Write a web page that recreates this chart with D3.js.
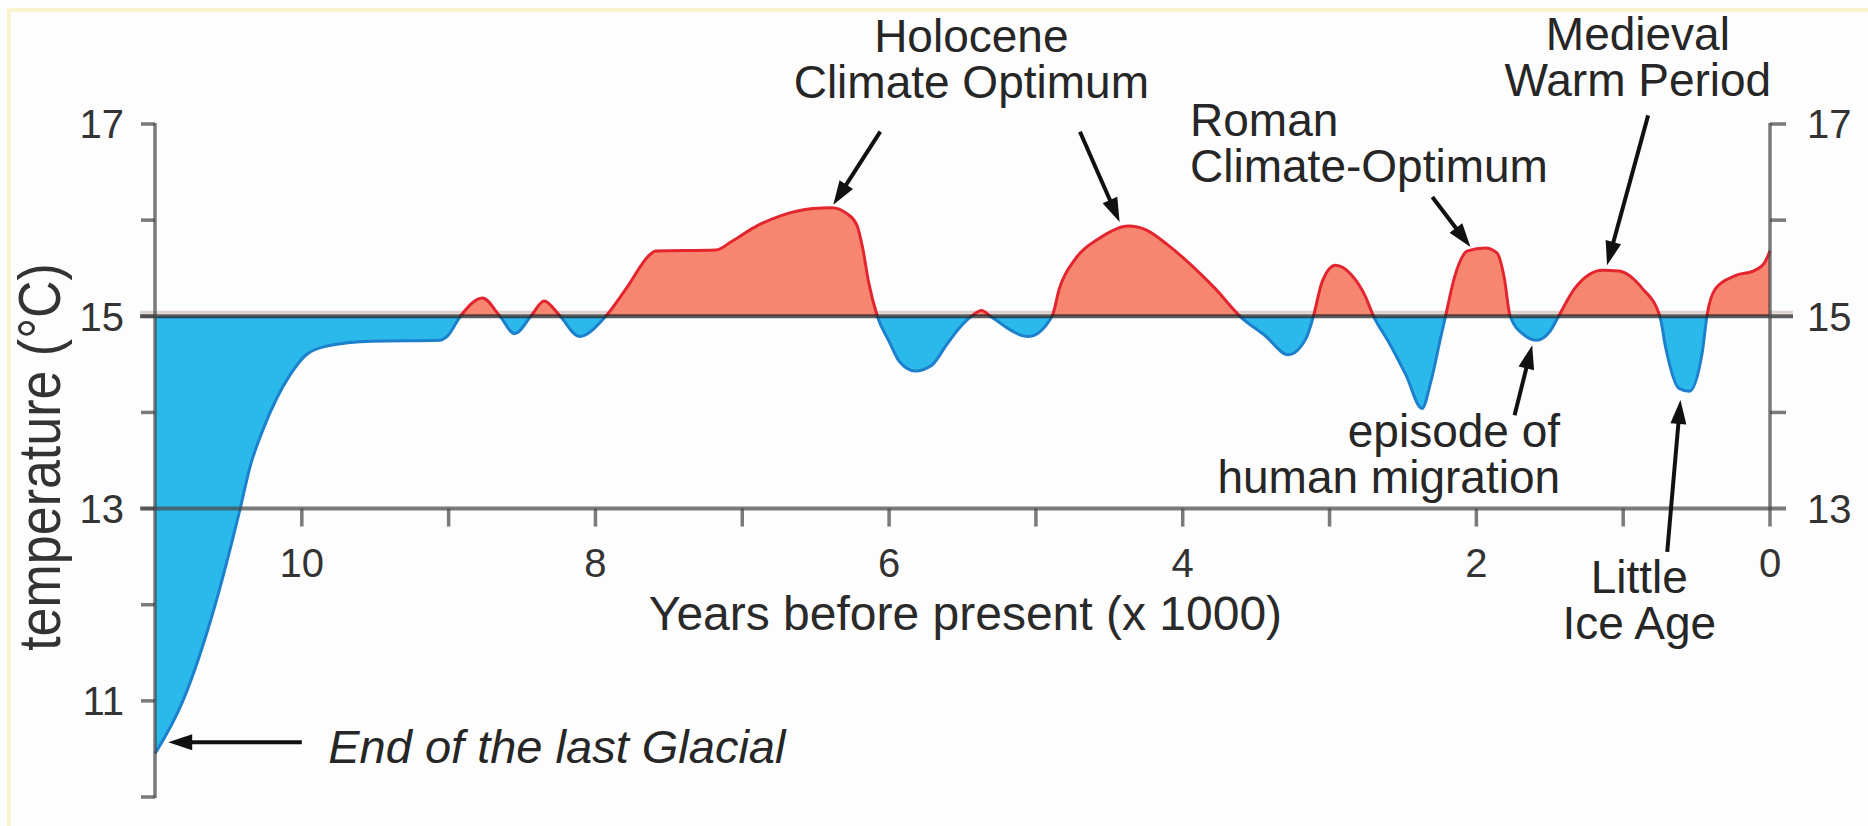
<!DOCTYPE html>
<html>
<head>
<meta charset="utf-8">
<script src="https://cdnjs.cloudflare.com/ajax/libs/d3/7.8.5/d3.min.js"></script>
<style>
    body { margin: 0; background: #fdfdfd; }
    svg { display: block; font-family: 'Liberation Sans', Arial, sans-serif; }
</style>
</head>
<body>
<svg width="1868" height="826"></svg>
<script>
/*
    Temperature of the last 11,000 years, warm (red) and cold (blue) against 15 °C.
*/

// Years before present (x 1000) from left to right
let years = [11.0, 10.81, 10.59, 10.42, 10.35, 10.27, 10.17, 10.08, 9.97, 9.83,
             9.52, 9.06, 9.01, 8.92, 8.77, 8.65, 8.55, 8.44, 8.35, 8.24,
             8.11, 7.93, 7.79, 7.63, 7.59, 7.18, 7.07, 6.90, 6.73, 6.52,
             6.39, 6.29, 6.22, 6.18, 6.14, 6.08, 6.00, 5.93, 5.82, 5.71,
             5.61, 5.52, 5.44, 5.37, 5.31, 5.05, 4.89, 4.84, 4.73, 4.57,
             4.37, 4.25, 4.10, 3.94, 3.78, 3.61, 3.44, 3.28, 3.16, 3.11,
             3.05, 2.96, 2.85, 2.76, 2.70, 2.60, 2.48, 2.37, 2.31, 2.24,
             2.21, 2.15, 2.06, 1.94, 1.86, 1.81, 1.77, 1.67, 1.59, 1.50,
             1.44, 1.33, 1.14, 1.03, 0.87, 0.75, 0.71, 0.62, 0.55, 0.46,
             0.43, 0.37, 0.24, 0.10, 0.04, 0.0];

// Temperature in °C at each of those years
let temps = [10.45, 11.0, 12.0, 13.0, 13.45, 13.8, 14.15, 14.39, 14.6, 14.69,
             14.74, 14.75, 14.79, 15.0, 15.19, 15.0, 14.82, 15.0, 15.16, 15.0,
             14.79, 15.0, 15.29, 15.64, 15.68, 15.69, 15.78, 15.94, 16.05, 16.12,
             16.13, 16.07, 15.95, 15.71, 15.36, 15.0, 14.74, 14.53, 14.43, 14.49,
             14.7, 14.88, 15.0, 15.06, 15.0, 14.79, 15.0, 15.29, 15.6, 15.81,
             15.94, 15.9, 15.74, 15.53, 15.29, 15.0, 14.8, 14.6, 14.77, 15.0,
             15.36, 15.53, 15.43, 15.22, 15.0, 14.74, 14.39, 14.04, 14.32, 14.8,
             15.0, 15.4, 15.68, 15.71, 15.66, 15.4, 15.0, 14.8, 14.75, 14.84,
             15.0, 15.29, 15.48, 15.47, 15.29, 15.0, 14.67, 14.25, 14.22, 14.64,
             15.0, 15.29, 15.42, 15.48, 15.55, 15.68];

// Ticks and tick labels
let xTicks = [10, 9, 8, 7, 6, 5, 4, 3, 2, 1];
let xLabels = [10, 8, 6, 4, 2, 0];
let yTicks = [17, 16, 15, 14, 13, 12, 11, 10];
let yLabelsLeft = [17, 15, 13, 11];
let yLabelsRight = [17, 15, 13];
let rightTicks = [17, 16, 14];
let baseline = 15;

// Annotations, placed in data units (year, temperature)
let notes = [
    { lines: ['Holocene', 'Climate Optimum'], year: 5.44, temp: 17.75, anchor: 'middle' },
    { lines: ['Roman', 'Climate-Optimum'], year: 3.95, temp: 16.87, anchor: 'start' },
    { lines: ['Medieval', 'Warm Period'], year: 0.90, temp: 17.77, anchor: 'middle' },
    { lines: ['episode of', 'human migration'], year: 1.43, temp: 13.64, anchor: 'end' },
    { lines: ['Little', 'Ice Age'], year: 0.89, temp: 12.12, anchor: 'middle' }
];

let arrows = [
    { from: [6.06, 16.92], to: [6.38, 16.16] },
    { from: [4.70, 16.92], to: [4.43, 15.98] },
    { from: [2.30, 16.24], to: [2.04, 15.72] },
    { from: [0.83, 17.09], to: [1.11, 15.53] },
    { from: [1.74, 13.97], to: [1.62, 14.70] },
    { from: [0.70, 12.55], to: [0.61, 14.13] },
    { from: [10.0, 10.57], to: [10.91, 10.57] }
];

// Select the svg and define constants
let svg = d3.select('svg');
let width = +svg.attr('width');
let height = +svg.attr('height');

let x = d3.scaleLinear().domain([11, 0]).range([155, 1770]);
let y = d3.scaleLinear().domain([10, 17]).range([797, 124]);

let points = years.map((d, i) => ({ year: d, temp: temps[i] }));

// Faint frame round the picture
svg.append('rect')
    .attr('x', 9).attr('y', 10)
    .attr('width', width + 50).attr('height', height + 50)
    .attr('fill', 'none')
    .attr('stroke', '#fbf5cf')
    .attr('stroke-width', 4);

// Clip regions above and below 15 °C
let defs = svg.append('defs');
defs.append('clipPath').attr('id', 'warm')
    .append('rect')
    .attr('x', 0).attr('y', 0)
    .attr('width', width).attr('height', y(baseline));
defs.append('clipPath').attr('id', 'cold')
    .append('rect')
    .attr('x', 0).attr('y', y(baseline))
    .attr('width', width).attr('height', height - y(baseline));

// Light band sitting on top of the 15 line
svg.append('line')
    .attr('x1', 140).attr('x2', x(0) + 23)
    .attr('y1', y(baseline) - 4).attr('y2', y(baseline) - 4)
    .attr('stroke', '#dcd1cd')
    .attr('stroke-width', 3);

let area = d3.area()
    .x(d => x(d.year))
    .y0(y(baseline))
    .y1(d => y(d.temp))
    .curve(d3.curveMonotoneX);

let line = d3.line()
    .x(d => x(d.year))
    .y(d => y(d.temp))
    .curve(d3.curveMonotoneX);

// Warm and cold fills
svg.append('path')
    .datum(points)
    .attr('d', area)
    .attr('clip-path', 'url(#warm)')
    .attr('fill', '#f6866f');

svg.append('path')
    .datum(points)
    .attr('d', area)
    .attr('clip-path', 'url(#cold)')
    .attr('fill', '#2bb9ec');

// Outline of the curve
svg.append('path')
    .datum(points)
    .attr('d', line)
    .attr('clip-path', 'url(#warm)')
    .attr('fill', 'none')
    .attr('stroke', '#e2252f')
    .attr('stroke-width', 3);

svg.append('path')
    .datum(points)
    .attr('d', line)
    .attr('clip-path', 'url(#cold)')
    .attr('fill', 'none')
    .attr('stroke', '#1d80cc')
    .attr('stroke-width', 3);

// Axis lines and reference lines
let axisColor = 'rgba(70,70,70,0.72)';

svg.append('line')
    .attr('x1', 140).attr('x2', x(0) + 23)
    .attr('y1', y(baseline)).attr('y2', y(baseline))
    .attr('stroke', 'rgba(30,30,30,0.72)')
    .attr('stroke-width', 4);

svg.append('line')
    .attr('x1', 140).attr('x2', x(0) + 16)
    .attr('y1', y(13)).attr('y2', y(13))
    .attr('stroke', axisColor)
    .attr('stroke-width', 4);

svg.append('line')
    .attr('x1', x(11)).attr('x2', x(11))
    .attr('y1', y(17) - 1).attr('y2', y(10) + 1)
    .attr('stroke', axisColor)
    .attr('stroke-width', 3.5);

svg.append('line')
    .attr('x1', x(0)).attr('x2', x(0))
    .attr('y1', y(17) - 1).attr('y2', y(13) + 18)
    .attr('stroke', axisColor)
    .attr('stroke-width', 3.5);

// Left ticks
svg.selectAll('.ltick')
    .data(yTicks)
    .enter().append('line')
    .attr('class', 'ltick')
    .attr('x1', x(11) - 14).attr('x2', x(11))
    .attr('y1', d => y(d)).attr('y2', d => y(d))
    .attr('stroke', axisColor)
    .attr('stroke-width', 3.5);

// Right ticks
svg.selectAll('.rtick')
    .data(rightTicks)
    .enter().append('line')
    .attr('class', 'rtick')
    .attr('x1', x(0)).attr('x2', x(0) + 16)
    .attr('y1', d => y(d)).attr('y2', d => y(d))
    .attr('stroke', axisColor)
    .attr('stroke-width', 3.5);

// Bottom ticks hanging from the 13 line
svg.selectAll('.xtick')
    .data(xTicks)
    .enter().append('line')
    .attr('class', 'xtick')
    .attr('x1', d => x(d)).attr('x2', d => x(d))
    .attr('y1', y(13)).attr('y2', y(13) + 18)
    .attr('stroke', axisColor)
    .attr('stroke-width', 3.5);

// Tick labels
svg.selectAll('.ylabel-left')
    .data(yLabelsLeft)
    .enter().append('text')
    .attr('class', 'ylabel-left')
    .attr('x', x(11) - 31)
    .attr('y', d => y(d))
    .attr('dy', '0.36em')
    .attr('text-anchor', 'end')
    .attr('font-size', '40px')
    .attr('fill', '#333')
    .text(d => d);

svg.selectAll('.ylabel-right')
    .data(yLabelsRight)
    .enter().append('text')
    .attr('class', 'ylabel-right')
    .attr('x', x(0) + 37)
    .attr('y', d => y(d))
    .attr('dy', '0.36em')
    .attr('text-anchor', 'start')
    .attr('font-size', '40px')
    .attr('fill', '#333')
    .text(d => d);

svg.selectAll('.xlabel')
    .data(xLabels)
    .enter().append('text')
    .attr('class', 'xlabel')
    .attr('x', d => x(d))
    .attr('y', y(13) + 68)
    .attr('text-anchor', 'middle')
    .attr('font-size', '40px')
    .attr('fill', '#333')
    .text(d => d);

// Axis titles
svg.append('text')
    .attr('text-anchor', 'middle')
    .attr('transform', 'translate(' + x(5.48) + ',' + (y(13) + 121) + ')')
    .attr('font-size', '48px')
    .attr('fill', '#2a2a2a')
    .text('Years before present (x 1000)');

svg.append('text')
    .attr('text-anchor', 'middle')
    .attr('transform', 'translate(60,457) rotate(-90) scale(1,1.15)')
    .attr('font-size', '52px')
    .attr('fill', '#333')
    .text('temperature (°C)');

// Annotation labels
notes.forEach(n => {
    let t = svg.append('text')
        .attr('text-anchor', n.anchor)
        .attr('font-size', '46px')
        .attr('fill', '#262626');
    n.lines.forEach((s, i) => {
        t.append('tspan')
            .attr('x', x(n.year))
            .attr('y', y(n.temp) + i * 46)
            .text(s);
    });
});

svg.append('text')
    .attr('x', x(9.82))
    .attr('y', y(10.35))
    .attr('font-size', '47px')
    .attr('font-style', 'italic')
    .attr('fill', '#262626')
    .text('End of the last Glacial');

// Arrows
arrows.forEach(a => {
    let x0 = x(a.from[0]), y0 = y(a.from[1]);
    let x1 = x(a.to[0]), y1 = y(a.to[1]);
    let len = Math.hypot(x1 - x0, y1 - y0);
    let ux = (x1 - x0) / len, uy = (y1 - y0) / len;
    let head = 24, half = 8;
    let bx = x1 - ux * head, by = y1 - uy * head;

    svg.append('line')
        .attr('x1', x0).attr('y1', y0)
        .attr('x2', bx + ux * 4).attr('y2', by + uy * 4)
        .attr('stroke', '#111')
        .attr('stroke-width', 4);

    svg.append('path')
        .attr('d', 'M' + x1 + ',' + y1 +
                   'L' + (bx - uy * half) + ',' + (by + ux * half) +
                   'L' + (bx + uy * half) + ',' + (by - ux * half) + 'Z')
        .attr('fill', '#111');
});
</script>
</body>
</html>
